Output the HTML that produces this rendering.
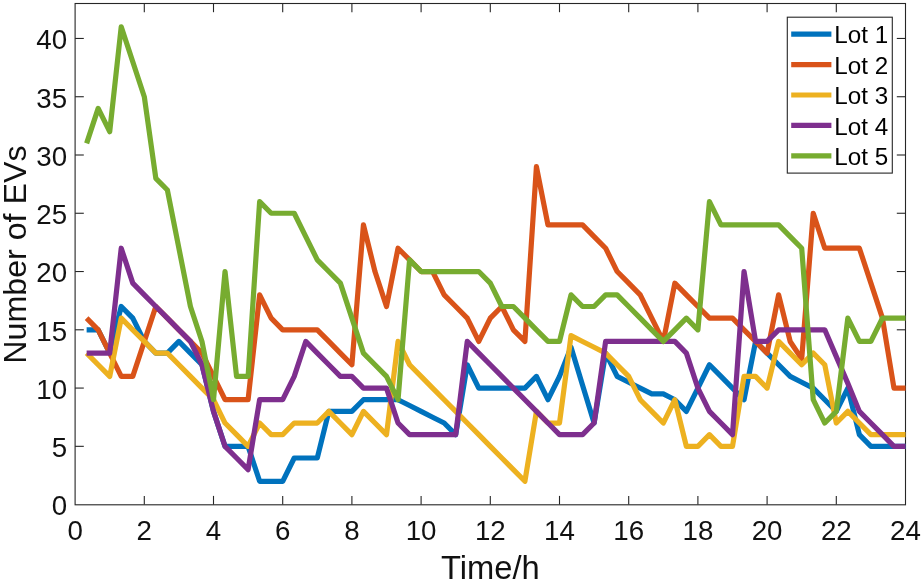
<!DOCTYPE html>
<html lang="en">
<head>
<meta charset="utf-8">
<title>Number of EVs per lot</title>
<style>
html,body{margin:0;padding:0;background:#ffffff;}
body{width:922px;height:583px;overflow:hidden;}
</style>
</head>
<body>
<svg width="922" height="583" viewBox="0 0 922 583" style="display:block" font-family="'Liberation Sans', sans-serif">
<rect x="0" y="0" width="922" height="583" fill="#ffffff"/>
<g stroke="#262626" stroke-width="1.1" fill="none" shape-rendering="auto">
<rect x="75.10" y="3.50" width="830.40" height="501.30"/>
<line x1="144.30" y1="504.60" x2="144.30" y2="495.90"/>
<line x1="144.30" y1="3.50" x2="144.30" y2="12.20"/>
<line x1="213.50" y1="504.60" x2="213.50" y2="495.90"/>
<line x1="213.50" y1="3.50" x2="213.50" y2="12.20"/>
<line x1="282.70" y1="504.60" x2="282.70" y2="495.90"/>
<line x1="282.70" y1="3.50" x2="282.70" y2="12.20"/>
<line x1="351.90" y1="504.60" x2="351.90" y2="495.90"/>
<line x1="351.90" y1="3.50" x2="351.90" y2="12.20"/>
<line x1="421.10" y1="504.60" x2="421.10" y2="495.90"/>
<line x1="421.10" y1="3.50" x2="421.10" y2="12.20"/>
<line x1="490.30" y1="504.60" x2="490.30" y2="495.90"/>
<line x1="490.30" y1="3.50" x2="490.30" y2="12.20"/>
<line x1="559.50" y1="504.60" x2="559.50" y2="495.90"/>
<line x1="559.50" y1="3.50" x2="559.50" y2="12.20"/>
<line x1="628.70" y1="504.60" x2="628.70" y2="495.90"/>
<line x1="628.70" y1="3.50" x2="628.70" y2="12.20"/>
<line x1="697.90" y1="504.60" x2="697.90" y2="495.90"/>
<line x1="697.90" y1="3.50" x2="697.90" y2="12.20"/>
<line x1="767.10" y1="504.60" x2="767.10" y2="495.90"/>
<line x1="767.10" y1="3.50" x2="767.10" y2="12.20"/>
<line x1="836.30" y1="504.60" x2="836.30" y2="495.90"/>
<line x1="836.30" y1="3.50" x2="836.30" y2="12.20"/>
<line x1="75.10" y1="446.33" x2="83.80" y2="446.33"/>
<line x1="905.50" y1="446.33" x2="896.80" y2="446.33"/>
<line x1="75.10" y1="388.07" x2="83.80" y2="388.07"/>
<line x1="905.50" y1="388.07" x2="896.80" y2="388.07"/>
<line x1="75.10" y1="329.80" x2="83.80" y2="329.80"/>
<line x1="905.50" y1="329.80" x2="896.80" y2="329.80"/>
<line x1="75.10" y1="271.53" x2="83.80" y2="271.53"/>
<line x1="905.50" y1="271.53" x2="896.80" y2="271.53"/>
<line x1="75.10" y1="213.26" x2="83.80" y2="213.26"/>
<line x1="905.50" y1="213.26" x2="896.80" y2="213.26"/>
<line x1="75.10" y1="155.00" x2="83.80" y2="155.00"/>
<line x1="905.50" y1="155.00" x2="896.80" y2="155.00"/>
<line x1="75.10" y1="96.73" x2="83.80" y2="96.73"/>
<line x1="905.50" y1="96.73" x2="896.80" y2="96.73"/>
<line x1="75.10" y1="38.46" x2="83.80" y2="38.46"/>
<line x1="905.50" y1="38.46" x2="896.80" y2="38.46"/>
</g>
<polyline fill="none" stroke="#0072BD" stroke-width="5.2" stroke-linejoin="round" stroke-linecap="butt" points="86.63,329.80 98.17,329.80 109.70,353.10 121.23,306.49 132.77,318.14 144.30,341.45 155.83,353.10 167.37,353.10 178.90,341.45 190.43,353.10 201.97,364.76 213.50,411.37 225.03,446.33 236.57,446.33 248.10,446.33 259.63,481.29 271.17,481.29 282.70,481.29 294.23,457.99 305.77,457.99 317.30,457.99 328.83,411.37 340.37,411.37 351.90,411.37 363.43,399.72 374.97,399.72 386.50,399.72 398.03,399.72 409.57,405.55 421.10,411.37 432.63,417.20 444.17,423.03 455.70,434.68 467.23,364.76 478.77,388.07 490.30,388.07 501.83,388.07 513.37,388.07 524.90,388.07 536.43,376.41 547.97,399.72 559.50,376.41 571.03,347.28 582.57,385.15 594.10,423.03 605.63,353.10 617.17,376.41 628.70,382.24 640.23,388.07 651.77,393.89 663.30,393.89 674.83,399.72 686.37,411.37 697.90,388.07 709.43,364.76 720.97,376.41 732.50,388.07 744.03,399.72 755.57,341.45 767.10,353.10 778.63,364.76 790.17,376.41 801.70,382.24 813.23,388.07 824.77,399.72 836.30,411.37 847.83,388.07 859.37,434.68 870.90,446.33 882.43,446.33 893.97,446.33 905.50,446.33"/>
<polyline fill="none" stroke="#D95319" stroke-width="5.2" stroke-linejoin="round" stroke-linecap="butt" points="86.63,318.14 98.17,329.80 109.70,353.10 121.23,376.41 132.77,376.41 144.30,341.45 155.83,306.49 167.37,318.14 178.90,329.80 190.43,341.45 201.97,353.10 213.50,376.41 225.03,399.72 236.57,399.72 248.10,399.72 259.63,294.84 271.17,318.14 282.70,329.80 294.23,329.80 305.77,329.80 317.30,329.80 328.83,341.45 340.37,353.10 351.90,364.76 363.43,224.92 374.97,271.53 386.50,306.49 398.03,248.22 409.57,259.88 421.10,271.53 432.63,271.53 444.17,294.84 455.70,306.49 467.23,318.14 478.77,341.45 490.30,318.14 501.83,306.49 513.37,329.80 524.90,341.45 536.43,166.65 547.97,224.92 559.50,224.92 571.03,224.92 582.57,224.92 594.10,236.57 605.63,248.22 617.17,271.53 628.70,283.18 640.23,294.84 651.77,318.14 663.30,341.45 674.83,283.18 686.37,294.84 697.90,306.49 709.43,318.14 720.97,318.14 732.50,318.14 744.03,329.80 755.57,341.45 767.10,353.10 778.63,294.84 790.17,341.45 801.70,358.93 813.23,213.26 824.77,248.22 836.30,248.22 847.83,248.22 859.37,248.22 870.90,283.18 882.43,318.14 893.97,388.07 905.50,388.07"/>
<polyline fill="none" stroke="#EDB120" stroke-width="5.2" stroke-linejoin="round" stroke-linecap="butt" points="86.63,353.10 98.17,364.76 109.70,376.41 121.23,318.14 132.77,329.80 144.30,341.45 155.83,353.10 167.37,353.10 178.90,364.76 190.43,376.41 201.97,388.07 213.50,399.72 225.03,423.03 236.57,434.68 248.10,446.33 259.63,423.03 271.17,434.68 282.70,434.68 294.23,423.03 305.77,423.03 317.30,423.03 328.83,411.37 340.37,423.03 351.90,434.68 363.43,411.37 374.97,423.03 386.50,434.68 398.03,341.45 409.57,364.76 421.10,376.41 432.63,388.07 444.17,399.72 455.70,411.37 467.23,423.03 478.77,434.68 490.30,446.33 501.83,457.99 513.37,469.64 524.90,481.29 536.43,411.37 547.97,423.03 559.50,423.03 571.03,335.62 582.57,341.45 594.10,347.28 605.63,353.10 617.17,364.76 628.70,376.41 640.23,399.72 651.77,411.37 663.30,423.03 674.83,399.72 686.37,446.33 697.90,446.33 709.43,434.68 720.97,446.33 732.50,446.33 744.03,376.41 755.57,376.41 767.10,388.07 778.63,341.45 790.17,353.10 801.70,364.76 813.23,353.10 824.77,364.76 836.30,423.03 847.83,411.37 859.37,423.03 870.90,434.68 882.43,434.68 893.97,434.68 905.50,434.68"/>
<polyline fill="none" stroke="#7E2F8E" stroke-width="5.2" stroke-linejoin="round" stroke-linecap="butt" points="86.63,353.10 98.17,353.10 109.70,353.10 121.23,248.22 132.77,283.18 144.30,294.84 155.83,306.49 167.37,318.14 178.90,329.80 190.43,341.45 201.97,364.76 213.50,411.37 225.03,446.33 236.57,457.99 248.10,469.64 259.63,399.72 271.17,399.72 282.70,399.72 294.23,376.41 305.77,341.45 317.30,353.10 328.83,364.76 340.37,376.41 351.90,376.41 363.43,388.07 374.97,388.07 386.50,388.07 398.03,423.03 409.57,434.68 421.10,434.68 432.63,434.68 444.17,434.68 455.70,434.68 467.23,341.45 478.77,353.10 490.30,364.76 501.83,376.41 513.37,388.07 524.90,399.72 536.43,411.37 547.97,423.03 559.50,434.68 571.03,434.68 582.57,434.68 594.10,423.03 605.63,341.45 617.17,341.45 628.70,341.45 640.23,341.45 651.77,341.45 663.30,341.45 674.83,341.45 686.37,353.10 697.90,388.07 709.43,411.37 720.97,423.03 732.50,434.68 744.03,271.53 755.57,341.45 767.10,341.45 778.63,329.80 790.17,329.80 801.70,329.80 813.23,329.80 824.77,329.80 836.30,356.60 847.83,383.40 859.37,411.37 870.90,423.03 882.43,434.68 893.97,446.33 905.50,446.33"/>
<polyline fill="none" stroke="#77AC30" stroke-width="5.2" stroke-linejoin="round" stroke-linecap="butt" points="86.63,143.34 98.17,108.38 109.70,131.69 121.23,26.81 132.77,61.77 144.30,96.73 155.83,178.30 167.37,189.96 178.90,248.22 190.43,306.49 201.97,341.45 213.50,399.72 225.03,271.53 236.57,376.41 248.10,376.41 259.63,201.61 271.17,213.26 282.70,213.26 294.23,213.26 305.77,236.57 317.30,259.88 328.83,271.53 340.37,283.18 351.90,318.14 363.43,353.10 374.97,364.76 386.50,376.41 398.03,399.72 409.57,259.88 421.10,271.53 432.63,271.53 444.17,271.53 455.70,271.53 467.23,271.53 478.77,271.53 490.30,283.18 501.83,306.49 513.37,306.49 524.90,318.14 536.43,329.80 547.97,341.45 559.50,341.45 571.03,294.84 582.57,306.49 594.10,306.49 605.63,294.84 617.17,294.84 628.70,306.49 640.23,318.14 651.77,329.80 663.30,341.45 674.83,329.80 686.37,318.14 697.90,329.80 709.43,201.61 720.97,224.92 732.50,224.92 744.03,224.92 755.57,224.92 767.10,224.92 778.63,224.92 790.17,236.57 801.70,248.22 813.23,399.72 824.77,423.03 836.30,411.37 847.83,318.14 859.37,341.45 870.90,341.45 882.43,318.14 893.97,318.14 905.50,318.14"/>
<g fill="#111111" font-size="27.7">
<text x="75.10" y="540.0" text-anchor="middle">0</text>
<text x="144.30" y="540.0" text-anchor="middle">2</text>
<text x="213.50" y="540.0" text-anchor="middle">4</text>
<text x="282.70" y="540.0" text-anchor="middle">6</text>
<text x="351.90" y="540.0" text-anchor="middle">8</text>
<text x="421.10" y="540.0" text-anchor="middle">10</text>
<text x="490.30" y="540.0" text-anchor="middle">12</text>
<text x="559.50" y="540.0" text-anchor="middle">14</text>
<text x="628.70" y="540.0" text-anchor="middle">16</text>
<text x="697.90" y="540.0" text-anchor="middle">18</text>
<text x="767.10" y="540.0" text-anchor="middle">20</text>
<text x="836.30" y="540.0" text-anchor="middle">22</text>
<text x="905.50" y="540.0" text-anchor="middle">24</text>
<text x="67.1" y="515.40" text-anchor="end">0</text>
<text x="67.1" y="457.13" text-anchor="end">5</text>
<text x="67.1" y="398.87" text-anchor="end">10</text>
<text x="67.1" y="340.60" text-anchor="end">15</text>
<text x="67.1" y="282.33" text-anchor="end">20</text>
<text x="67.1" y="224.06" text-anchor="end">25</text>
<text x="67.1" y="165.80" text-anchor="end">30</text>
<text x="67.1" y="107.53" text-anchor="end">35</text>
<text x="67.1" y="49.26" text-anchor="end">40</text>
</g>
<text x="490.4" y="579.3" text-anchor="middle" font-size="32.7" fill="#111111">Time/h</text>
<text transform="translate(26.4,254.6) rotate(-90)" text-anchor="middle" font-size="32.2" fill="#111111">Number of EVs</text>
<rect x="787.30" y="17.20" width="105.00" height="155.90" fill="#ffffff" stroke="#262626" stroke-width="1.1"/>
<line x1="791.2" y1="34.20" x2="831.4" y2="34.20" stroke="#0072BD" stroke-width="5.2"/>
<text x="834.3" y="43.00" font-size="24.2" fill="#000000">Lot 1</text>
<line x1="791.2" y1="64.60" x2="831.4" y2="64.60" stroke="#D95319" stroke-width="5.2"/>
<text x="834.3" y="73.60" font-size="24.2" fill="#000000">Lot 2</text>
<line x1="791.2" y1="95.00" x2="831.4" y2="95.00" stroke="#EDB120" stroke-width="5.2"/>
<text x="834.3" y="104.20" font-size="24.2" fill="#000000">Lot 3</text>
<line x1="791.2" y1="125.40" x2="831.4" y2="125.40" stroke="#7E2F8E" stroke-width="5.2"/>
<text x="834.3" y="134.80" font-size="24.2" fill="#000000">Lot 4</text>
<line x1="791.2" y1="155.80" x2="831.4" y2="155.80" stroke="#77AC30" stroke-width="5.2"/>
<text x="834.3" y="165.40" font-size="24.2" fill="#000000">Lot 5</text>
</svg>
</body>
</html>
